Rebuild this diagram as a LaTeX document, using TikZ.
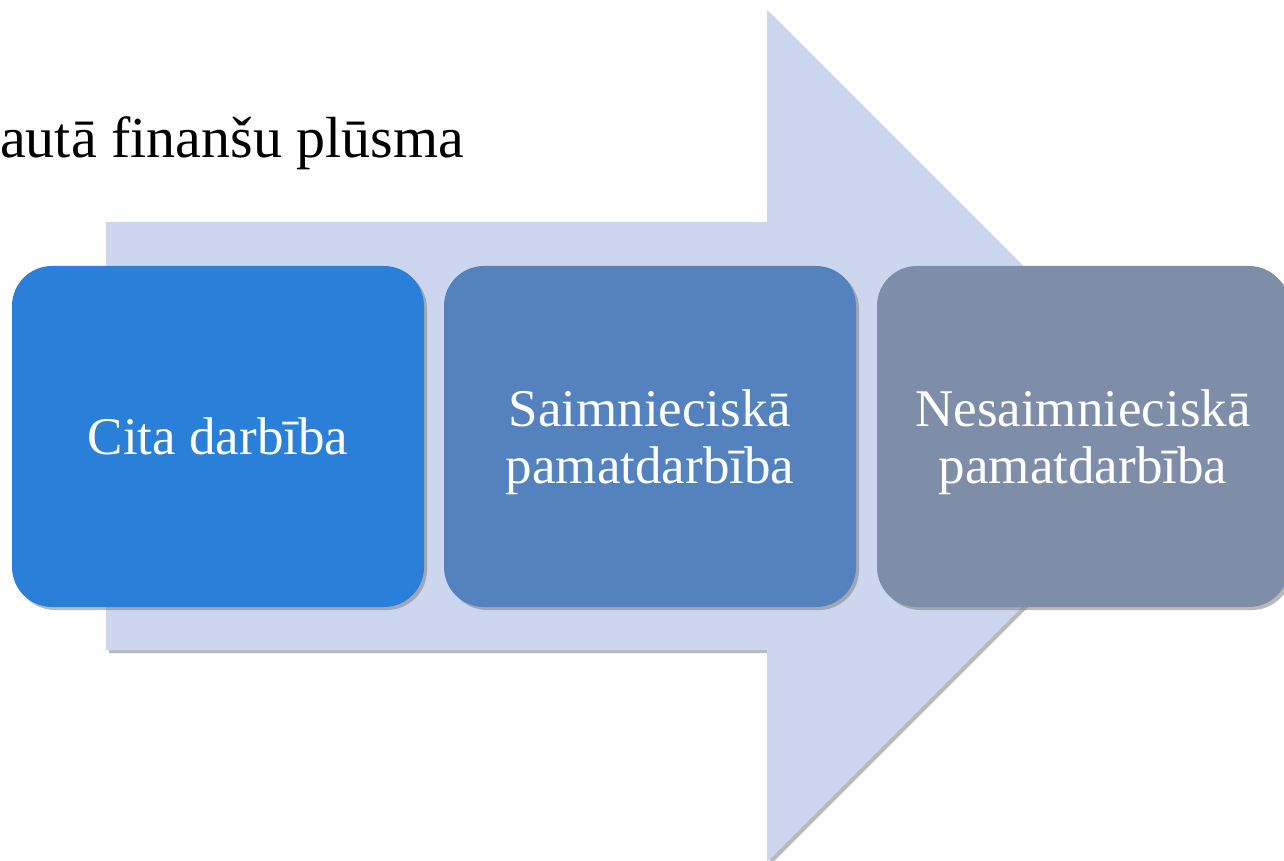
\documentclass[tikz,border=0pt]{standalone}
\usepackage{fontspec}
\setmainfont{Liberation Serif}
\usetikzlibrary{shadows}
\definecolor{arrowBlue}{HTML}{CCD7EF}
\definecolor{boxOne}{HTML}{2A7FD8}
\definecolor{boxTwo}{HTML}{5482BF}
\definecolor{boxThree}{HTML}{7F8EA8}
\begin{document}
\begin{tikzpicture}
        [x=1pt, y=1pt,
        shade/.style={drop shadow={opacity=0.55, shadow xshift=3pt, shadow yshift=-3pt}},
        box/.style={rounded corners=40pt, minimum width=412pt, minimum height=341pt, inner sep=0pt,
            align=center, text=white, font=\fontsize{53}{57}\selectfont, shade}]
        \useasboundingbox (0,0) rectangle (1284,860);
        \begin{scope}
        \clip (0,0) rectangle (1284,860);
        % big arrow behind
        \fill[arrowBlue, shade] (106,210) -- (106,638) -- (767,638) -- (767,850)
            -- (1193,424) -- (767,-2) -- (767,210) -- cycle;
        \end{scope}
        \node[anchor=base west, inner sep=0pt, font=\fontsize{58}{60}\selectfont] (title) at (0,702) {autā finanšu plūsma};

        \node[box, fill=boxOne] (cita) at (218,423.5) {Cita darbība};
        \node[box, fill=boxTwo] (saimn) at (650,423.5) {\raisebox{-6pt}[\height][\depth]{\parbox{400pt}{\centering Saimnieciskā\\pamatdarbība}}};
        \node[box, fill=boxThree] (nesaimn) at (1083,423.5) {\raisebox{-6pt}[\height][\depth]{\parbox{400pt}{\centering Nesaimnieciskā\\pamatdarbība}}};

    \end{tikzpicture}
\end{document}
